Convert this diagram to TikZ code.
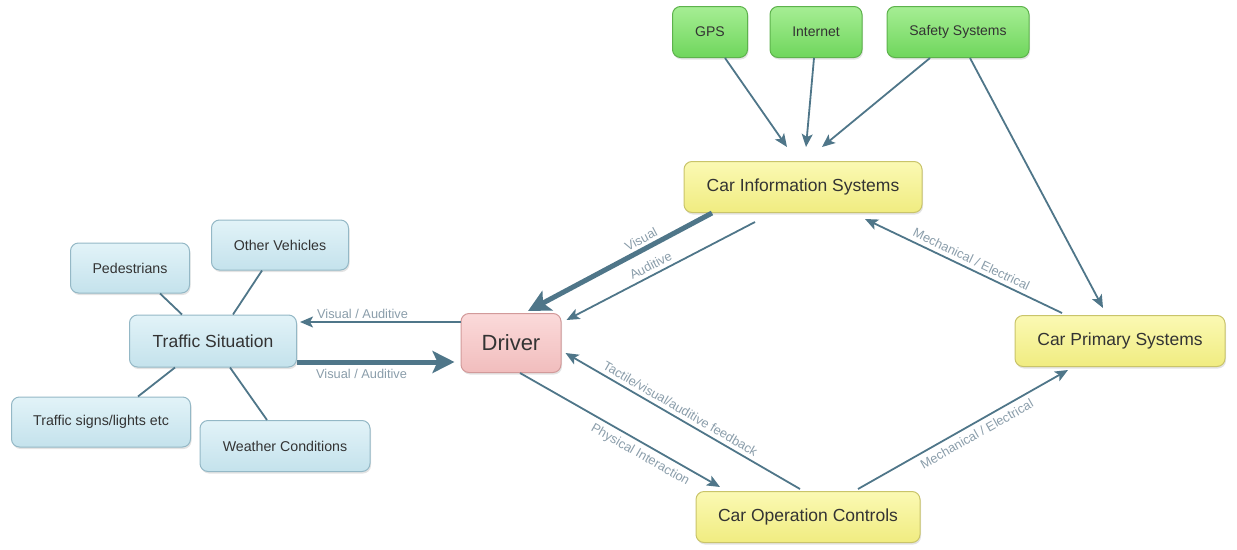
\documentclass[tikz,border=0pt]{standalone}
\usepackage{fontspec}
\setmainfont{Liberation Sans}
\usetikzlibrary{arrows.meta,calc,shadows}
\definecolor{link}{HTML}{4F7689}
\definecolor{lbl}{HTML}{8A9DAA}
\definecolor{ink}{HTML}{333333}
\definecolor{gtop}{HTML}{A6EE94}\definecolor{gbot}{HTML}{6FD65C}\definecolor{gline}{HTML}{5DB24C}
\definecolor{ytop}{HTML}{FBF9B4}\definecolor{ybot}{HTML}{F0EC80}\definecolor{yline}{HTML}{C9C46A}
\definecolor{btop}{HTML}{E2F3F8}\definecolor{bbot}{HTML}{C4E2EC}\definecolor{bline}{HTML}{94B8C6}
\definecolor{ptop}{HTML}{FBDADA}\definecolor{pbot}{HTML}{F1BDBD}\definecolor{pline}{HTML}{D29A9A}
\begin{document}
\begin{tikzpicture}[x=1pt,y=-1pt,
  box/.style={rectangle, rounded corners=8pt, line width=1pt, inner sep=0pt,
    text=ink, drop shadow={shadow xshift=1pt, shadow yshift=-2pt, opacity=0.22}},
  greenbox/.style={box, draw=gline, top color=gtop, bottom color=gbot,
    font=\fontsize{14}{16}\selectfont, minimum height=51pt},
  yellowbox/.style={box, draw=yline, top color=ytop, bottom color=ybot,
    font=\fontsize{17.5}{20}\selectfont, minimum height=51pt},
  bluebox/.style={box, draw=bline, top color=btop, bottom color=bbot,
    font=\fontsize{14.2}{16}\selectfont, minimum height=50pt},
  pinkbox/.style={box, draw=pline, top color=ptop, bottom color=pbot,
    font=\fontsize{22}{24}\selectfont},
  thin/.style={draw=link, line width=1.8pt, -{Stealth[length=13pt,width=11pt,inset=3pt]}},
  thick/.style={draw=link, line width=5pt, -{Stealth[length=22pt,width=22pt,inset=5pt]}},
  spoke/.style={draw=link, line width=1.8pt},
  lab/.style={font=\fontsize{12.8}{14}\selectfont, text=lbl, inner sep=1pt}
]
\useasboundingbox (0,0) rectangle (1237,549);

% sources of information
\node[greenbox, minimum width=75pt]  (gps)  at (710,32)  {GPS};
\node[greenbox, minimum width=92pt]  (net)  at (816,32)  {Internet};
\node[greenbox, minimum width=142pt] (safe) at (958,32)  {Safety Systems};

% car systems
\node[yellowbox, minimum width=238pt] (ci) at (803,187) {Car Information Systems};
\node[yellowbox, minimum width=210pt] (cp) at (1120,341) {Car Primary Systems};
\node[yellowbox, minimum width=224pt] (co) at (808,517) {Car Operation Controls};

% the driver
\node[pinkbox, minimum width=100pt, minimum height=59pt] (dr) at (511,343) {Driver};

% traffic environment
\node[bluebox, minimum width=167pt, minimum height=52pt, font=\fontsize{17.5}{20}\selectfont] (ts) at (213,341) {Traffic Situation};
\node[bluebox, minimum width=119pt] (ped) at (130,268) {Pedestrians};
\node[bluebox, minimum width=137pt] (ov)  at (280,245) {Other Vehicles};
\node[bluebox, minimum width=179pt] (tsl) at (101,422) {Traffic signs/lights etc};
\node[bluebox, minimum width=170pt, minimum height=51pt] (wc)  at (285,446) {Weather Conditions};

% spokes around the traffic situation
\draw[spoke] ($(ts.north)+(-31,0)$) -- ($(ped.south)+(30,0)$);
\draw[spoke] ($(ts.north)+(20,0)$) -- ($(ov.south)+(-18,0)$);
\draw[spoke] ($(ts.south)+(-38,0)$) -- ($(tsl.north)+(37,0)$);
\draw[spoke] ($(ts.south)+(17,0)$) -- ($(wc.north)+(-18,0)$);

% inputs to the information systems
\draw[thin] ($(gps.south)+(15,0)$) -- ($(ci.north)+(-16,-14)$);
\draw[thin] ($(net.south)+(-2,0)$) -- ($(ci.north)+(3,-14)$);
\draw[thin] ($(safe.south)+(-28,0)$) -- ($(ci.north)+(19,-14)$);
\draw[thin] ($(safe.south)+(12,0)$) -- ($(cp.north)+(-17,-7)$);

% information systems to driver
\draw[thick] ($(ci.south)+(-91,0)$) -- node[lab, sloped, above=2pt, pos=0.36] {Visual} ($(dr.north)+(17,-2)$);
\draw[thin] ($(ci.south)+(-48,9)$) -- node[lab, sloped, above=3pt, pos=0.53] {Auditive} ($(dr.north east)+(5,7)$);

% driver and traffic situation
\draw[thin] ($(dr.west)+(0,-21)$) -- node[lab, above=1pt, pos=0.61] {Visual / Auditive} ($(ts.east)+(3,-19)$);
\draw[thick] ($(ts.east)+(0,21)$) -- node[lab, below=4pt, pos=0.41] {Visual / Auditive} ($(dr.west)+(-6,19)$);

% driver and operation controls
\draw[thin] ($(dr.south)+(9,0)$) -- node[lab, sloped, below=4pt, pos=0.63] {Physical Interaction} ($(co.north)+(-88,-4)$);
\draw[thin] ($(co.north)+(-8,-2)$) -- node[lab, sloped, above=3pt, pos=0.53] {Tactile/visual/auditive feedback} ($(dr.east)+(4,10)$);

% mechanical links between the car systems
\draw[thin] ($(cp.north)+(-58,-2)$) -- node[lab, sloped, above=3pt, pos=0.48] {Mechanical / Electrical} ($(ci.south)+(62,6)$);
\draw[thin] ($(co.north)+(50,-2)$) -- node[lab, sloped, below=4pt, pos=0.54] {Mechanical / Electrical} ($(cp.south)+(-52,3)$);
\end{tikzpicture}
\end{document}
